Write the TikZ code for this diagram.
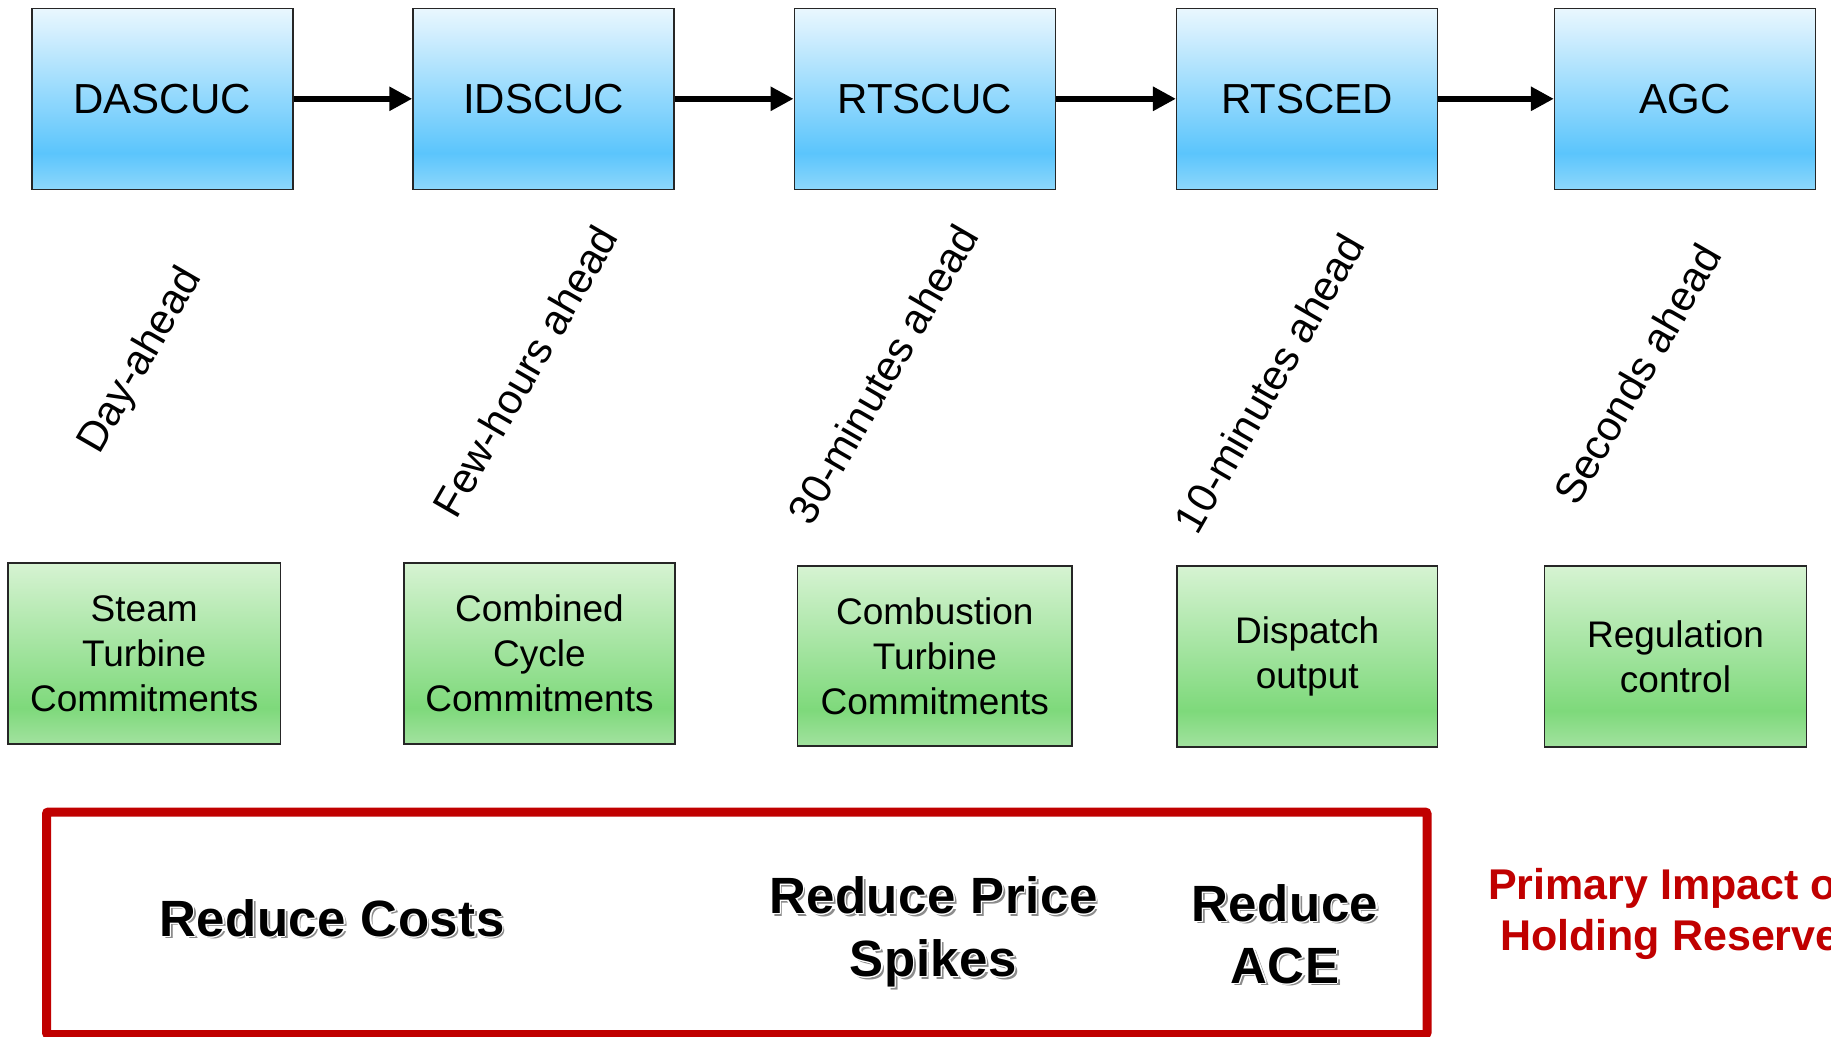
\documentclass[tikz,border=0pt]{standalone}
\usepackage{fontspec}
\setmainfont{Liberation Sans}
\newfontfamily\bsp[LetterSpace=1]{Liberation Sans Bold}
\usepackage{contour}
\contourlength{1.3pt}
\contournumber{12}
\usetikzlibrary{arrows.meta}
\definecolor{btop}{HTML}{EAF7FE}
\definecolor{bdark}{HTML}{5BC5FC}
\definecolor{bbot}{HTML}{8DD7FB}
\definecolor{gtop}{HTML}{D6F3D2}
\definecolor{gdark}{HTML}{7ED97B}
\definecolor{gbot}{HTML}{A2E29F}
\definecolor{redC}{HTML}{C00000}
\definecolor{shgray}{HTML}{8C8C8C}
\pgfdeclareverticalshading{bluefill}{100bp}{color(0bp)=(bbot); color(25bp)=(bbot); color(35bp)=(bdark); color(75bp)=(btop); color(100bp)=(btop)}
\pgfdeclareverticalshading{greenfill}{100bp}{color(0bp)=(gbot); color(25bp)=(gbot); color(35bp)=(gdark); color(75bp)=(gtop); color(100bp)=(gtop)}
\newcommand\shtext[1]{\makebox[0pt][l]{\hspace{2.8pt}\raisebox{-2.8pt}{\color{shgray}#1}}\contour{white}{#1}}
\tikzset{
  bluebox/.style={draw=black!85, line width=1.5pt, shade, shading=bluefill, minimum width=261pt, minimum height=181pt, inner sep=0pt, font=\fontsize{42}{50}\selectfont},
  greenbox/.style={draw=black!85, line width=1.5pt, shade, shading=greenfill, minimum height=181pt, inner sep=0pt, align=center, font=\fontsize{37}{45}\selectfont},
  flow/.style={line width=6.5pt, -{Triangle[length=23pt,width=23pt]}},
  horizon/.style={rotate=60, inner sep=0pt, font=\fontsize{42}{50}\selectfont},
  impact/.style={align=center, inner sep=0pt, font=\bsp\fontsize{51}{61}\selectfont},
  impactframe/.style={draw=redC, line width=9pt, rounded corners=2pt, minimum width=1380.5pt, minimum height=222.5pt, inner sep=0pt},
  redlabel/.style={text=redC, font=\bfseries\fontsize{43}{52}\selectfont, anchor=base west, inner sep=0pt}
}
\begin{document}
\begin{tikzpicture}[x=1pt,y=-1pt]
\useasboundingbox (0,0) rectangle (1831,1036);
\clip (0,0) rectangle (1831,1036);
% top row
\node[bluebox] (dascuc) at (162.3,98.8) {DASCUC};
\node[bluebox] (idscuc) at (543.5,98.8) {IDSCUC};
\node[bluebox] (rtscuc) at (924.8,98.8) {RTSCUC};
\node[bluebox] (rtsced) at (1307.2,98.8) {RTSCED};
\node[bluebox] (agc) at (1685.1,98.8) {AGC};
\draw[flow] (dascuc.east) -- (idscuc.west);
\draw[flow] (idscuc.east) -- (rtscuc.west);
\draw[flow] (rtscuc.east) -- (rtsced.west);
\draw[flow] (rtsced.east) -- (agc.west);
% horizons
\node[horizon] (tday) at (141,361) {Day-ahead};
\node[horizon] (tfew) at (525,371) {Few-hours ahead};
\node[horizon] (tthirty) at (883,374) {30-minutes ahead};
\node[horizon] (tten) at (1269,383) {10-minutes ahead};
\node[horizon] (tsec) at (1637,374) {Seconds ahead};
% green row
\node[greenbox, minimum width=272.4pt] (steam) at (144.2,653.7) {Steam\\Turbine\\Commitments};
\node[greenbox, minimum width=271pt] (combined) at (539.5,653.7) {Combined\\Cycle\\Commitments};
\node[greenbox, minimum width=274.5pt, minimum height=180pt] (combustion) at (934.8,656) {Combustion\\Turbine\\Commitments};
\node[greenbox, minimum width=260.6pt] (dispatch) at (1307.2,656.5) {Dispatch\\output};
\node[greenbox, minimum width=262.3pt] (regulation) at (1675.5,656.5) {Regulation\\control};
% impact frame
\node[impactframe] (frame) at (736.75,923.25) {};
\node[impact, anchor=base] (costs) at (332,936) {\shtext{Reduce Costs}};
\node[impact, font=\bsp\fontsize{51}{63}\selectfont] (price) at (933.3,933.2) {\shtext{Reduce Price}\\\shtext{Spikes}};
\node[impact, font=\bsp\fontsize{51}{62}\selectfont] (ace) at (1285,935.2) {\shtext{Reduce}\\\shtext{ACE}};
\node[redlabel] (prim) at (1488,899) {Primary Impact of};
\node[redlabel] (hold) at (1500,950) {Holding Reserves};
\end{tikzpicture}
\end{document}
